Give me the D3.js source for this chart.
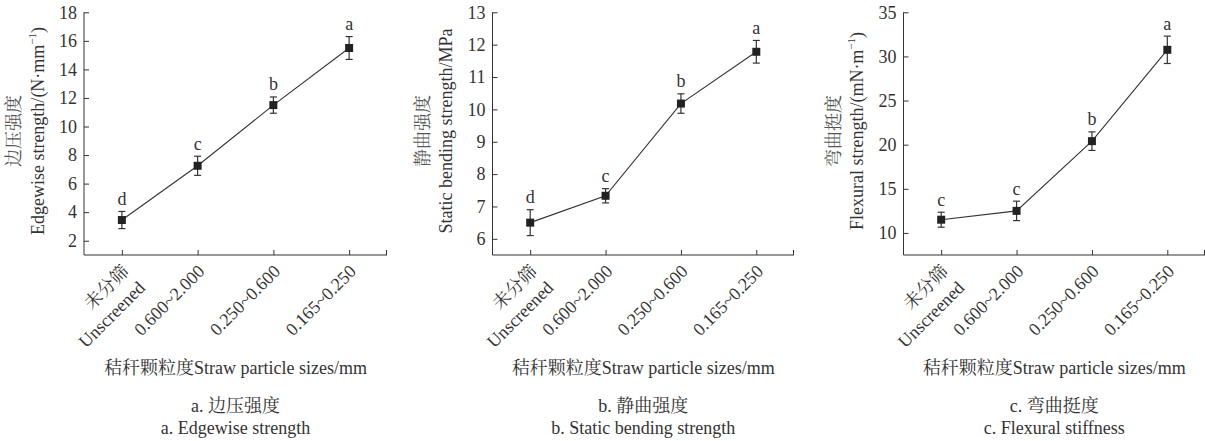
<!DOCTYPE html>
<html>
<head>
<meta charset="utf-8">
<script src="https://cdn.jsdelivr.net/npm/d3@7"></script>
<style>
  body { margin: 0; background: #fff; }
  svg, svg text { font-family: "Liberation Serif", "Times New Roman", "Noto Serif CJK SC", "Noto Sans CJK SC", serif; }
</style>
</head>
<body>
<div id="chart"></div>
<script>
// categories (straw particle sizes, mm)
const categories = ["Unscreened", "0.600~2.000", "0.250~0.600", "0.165~0.250"]
const categoriesZh = ["未分筛", "", "", ""]

// a. edgewise strength
const edgewiseMean = [3.45, 7.25, 11.5, 15.5]
const edgewiseErr = [0.6, 0.67, 0.57, 0.8]
const edgewiseSig = ["d", "c", "b", "a"]
const edgewiseTicks = [2, 4, 6, 8, 10, 12, 14, 16, 18]

// b. static bending strength
const bendingMean = [6.5, 7.33, 10.18, 11.78]
const bendingErr = [0.4, 0.22, 0.3, 0.35]
const bendingSig = ["d", "c", "b", "a"]
const bendingTicks = [6, 7, 8, 9, 10, 11, 12, 13]

// c. flexural stiffness
const stiffnessMean = [11.5, 12.5, 20.4, 30.75]
const stiffnessErr = [0.85, 1.1, 1.05, 1.55]
const stiffnessSig = ["c", "c", "b", "a"]
const stiffnessTicks = [10, 15, 20, 25, 30, 35]

const W = 1205, H = 441
const plotTop = 12.3, plotBottom = 255
const ink = "#333"
const fs = 18

const svg = d3.select("#chart").append("svg")
  .attr("width", W).attr("height", H)

const panels = [
  {x0: 84, x1: 387, domain: [1, 18], ticks: edgewiseTicks, mean: edgewiseMean, err: edgewiseErr, sig: edgewiseSig,
   yZh: "边压强度", yEn: ["Edgewise strength/(N·mm", "−1", ")"],
   capZh: "a. 边压强度", capEn: "a. Edgewise strength"},
  {x0: 492.5, x1: 794, domain: [5.5, 13], ticks: bendingTicks, mean: bendingMean, err: bendingErr, sig: bendingSig,
   yZh: "静曲强度", yEn: ["Static bending strength/MPa"],
   capZh: "b. 静曲强度", capEn: "b. Static bending strength"},
  {x0: 903.5, x1: 1205, domain: [7.5, 35], ticks: stiffnessTicks, mean: stiffnessMean, err: stiffnessErr, sig: stiffnessSig,
   yZh: "弯曲挺度", yEn: ["Flexural strength/(mN·m", "−1", ")"],
   capZh: "c. 弯曲挺度", capEn: "c. Flexural stiffness"}
]

panels.forEach(p => {
  const g = svg.append("g")

  const x = d3.scalePoint().domain(categories).range([p.x0, p.x1]).padding(0.5)
  const y = d3.scaleLinear().domain(p.domain).range([plotBottom, plotTop])

  // y axis, ticks inward
  const yAxis = g.append("g")
    .attr("transform", `translate(${p.x0},0)`)
    .call(d3.axisLeft(y).tickValues(p.ticks).tickSizeInner(-5).tickSizeOuter(0).tickPadding(7))
    .attr("font-family", null).attr("font-size", null)
  yAxis.select(".domain").remove()
  yAxis.selectAll("line").attr("stroke", ink)
  yAxis.selectAll("text").attr("font-size", fs).attr("fill", ink)
  g.append("line")
    .attr("x1", p.x0).attr("x2", p.x0).attr("y1", y(p.ticks[p.ticks.length - 1])).attr("y2", plotBottom)
    .attr("stroke", ink)

  // x axis, ticks inward
  const xAxis = g.append("g")
    .attr("transform", `translate(0,${plotBottom})`)
    .call(d3.axisBottom(x).tickSizeInner(-5).tickSizeOuter(0).tickFormat(""))
  xAxis.select(".domain").remove()
  xAxis.selectAll("line").attr("stroke", ink)
  g.append("line")
    .attr("x1", p.x0).attr("x2", p.x1).attr("y1", plotBottom).attr("y2", plotBottom)
    .attr("stroke", ink)
  g.append("line")
    .attr("x1", p.x1 - 0.5).attr("x2", p.x1 - 0.5).attr("y1", plotBottom).attr("y2", plotBottom - 5)
    .attr("stroke", ink)

  // rotated category labels
  categories.forEach((c, i) => {
    const t = g.append("text")
      .attr("transform", `translate(${x(c) + 8},${plotBottom + 17.5}) rotate(-45)`)
      .attr("text-anchor", "end")
      .attr("font-size", fs)
      .attr("fill", ink)
    if (categoriesZh[i]) {
      t.append("tspan").attr("x", 0).text(categoriesZh[i])
      t.append("tspan").attr("x", 0).attr("dy", 23).text(c)
    } else {
      t.text(c)
    }
  })

  // y axis title (two lines)
  const cy = 131
  g.append("text")
    .attr("transform", `translate(${p.x0 - 70},${cy}) rotate(-90)`)
    .attr("text-anchor", "middle").attr("dominant-baseline", "central")
    .attr("font-size", fs).attr("fill", "#555")
    .text(p.yZh)
  const en = g.append("text")
    .attr("transform", `translate(${p.x0 - 46.5},${cy}) rotate(-90)`)
    .attr("text-anchor", "middle").attr("dominant-baseline", "central")
    .attr("font-size", fs).attr("fill", ink)
  en.append("tspan").text(p.yEn[0])
  if (p.yEn.length > 1) {
    en.append("tspan").attr("font-size", 11).attr("dy", -6).text(p.yEn[1])
    en.append("tspan").attr("dy", 6).text(p.yEn[2])
  }

  // x axis title
  const cx = (p.x0 + p.x1) / 2
  g.append("text")
    .attr("x", cx).attr("y", 374)
    .attr("text-anchor", "middle")
    .attr("font-size", fs).attr("fill", ink)
    .text("秸秆颗粒度Straw particle sizes/mm")

  // captions
  g.append("text").attr("x", cx).attr("y", 412).attr("text-anchor", "middle")
    .attr("font-size", fs).attr("fill", ink).text(p.capZh)
  g.append("text").attr("x", cx).attr("y", 434).attr("text-anchor", "middle")
    .attr("font-size", fs).attr("fill", ink).text(p.capEn)

  const pts = categories.map((c, i) => ({c, m: p.mean[i], e: p.err[i], s: p.sig[i]}))

  // connecting line
  g.append("path")
    .datum(pts)
    .attr("fill", "none").attr("stroke", ink).attr("stroke-width", 1.1)
    .attr("d", d3.line().x(d => x(d.c)).y(d => y(d.m)))

  // error bars
  const cap = 3.5
  const eb = g.selectAll(".eb").data(pts).enter().append("g")
  eb.append("line")
    .attr("x1", d => x(d.c)).attr("x2", d => x(d.c))
    .attr("y1", d => y(d.m - d.e)).attr("y2", d => y(d.m + d.e))
    .attr("stroke", ink).attr("stroke-width", 1.2)
  eb.append("line")
    .attr("x1", d => x(d.c) - cap).attr("x2", d => x(d.c) + cap)
    .attr("y1", d => y(d.m + d.e)).attr("y2", d => y(d.m + d.e))
    .attr("stroke", ink).attr("stroke-width", 1.2)
  eb.append("line")
    .attr("x1", d => x(d.c) - cap).attr("x2", d => x(d.c) + cap)
    .attr("y1", d => y(d.m - d.e)).attr("y2", d => y(d.m - d.e))
    .attr("stroke", ink).attr("stroke-width", 1.2)

  // square markers
  g.selectAll(".mk").data(pts).enter().append("rect")
    .attr("x", d => x(d.c) - 4).attr("y", d => y(d.m) - 4)
    .attr("width", 8).attr("height", 8)
    .attr("fill", "#222")

  // significance letters
  g.selectAll(".sig").data(pts).enter().append("text")
    .attr("x", d => x(d.c)).attr("y", d => y(d.m + d.e) - 6.5)
    .attr("text-anchor", "middle")
    .attr("font-size", fs).attr("fill", ink)
    .text(d => d.s)
})
</script>
</body>
</html>
